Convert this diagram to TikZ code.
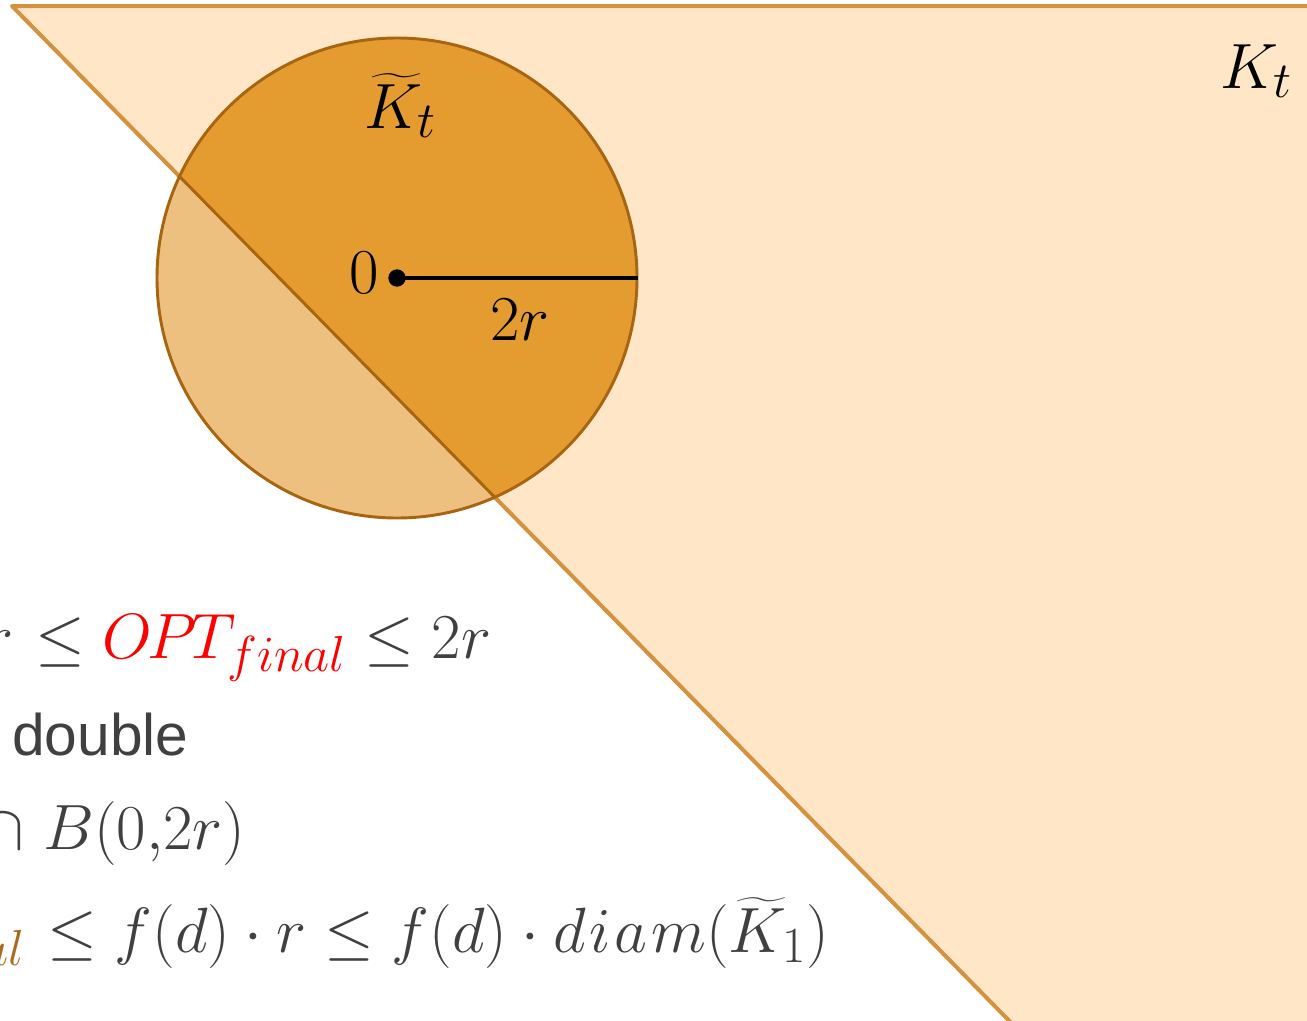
\RequirePackage{fix-cm}
\documentclass[tikz,border=0pt]{standalone}
\usepackage{amsmath}
\usepackage{fontspec}
\newfontfamily\arialfont{Liberation Sans}
\DeclareMathSizes{48}{48}{38}{30}
\definecolor{triFill}{HTML}{FEE6C6}
\definecolor{triLine}{HTML}{D4913F}
\definecolor{circOut}{HTML}{EDC07F}
\definecolor{circIn}{HTML}{E49B30}
\definecolor{circLine}{HTML}{A9640F}
\definecolor{txtGray}{HTML}{404040}
\definecolor{optBrown}{HTML}{A86A1E}
\tikzset{
  mathlbl/.style={inner sep=0pt, font=\fontsize{48}{58}\selectfont},
  mathtxt/.style={inner sep=0pt, text=txtGray, font=\fontsize{48}{58}\selectfont},
  sanstxt/.style={inner sep=0pt, text=txtGray, font=\arialfont\fontsize{44}{52}\selectfont},
}
\begin{document}
\begin{tikzpicture}[x=0.75pt,y=-0.75pt]
\useasboundingbox (0,0) rectangle (1307,1021);
\clip (0,0) rectangle (1307,1021);
% triangle K_t
\coordinate (T1) at (12,6);
\coordinate (T2) at (1330,6);
\coordinate (T3) at (1330,1045);
\coordinate (T4) at (1033,1045);
\fill[triFill] (T1) -- (T2) -- (T3) -- (T4) -- cycle;
\draw[triLine, line width=3pt, line join=round, line cap=round] (T4) -- (T1) -- (T2);
% ball
\coordinate (O) at (397,278);
\coordinate (E) at (638,278);
\fill[circOut] (O) circle[radius=180pt];
\begin{scope}
  \clip (T1) -- (T2) -- (T3) -- (T4) -- cycle;
  \fill[circIn] (O) circle[radius=180pt];
\end{scope}
\begin{scope}
  \clip (O) circle[radius=180pt];
  \draw[circLine, line width=2.2pt] (T1) -- (T4);
\end{scope}
\draw[circLine, line width=2.2pt] (O) circle[radius=180pt];
% radius
\draw[line width=3pt] (O) -- (E);
\fill (O) circle[radius=6.5pt];
% labels
\node[mathlbl, anchor=base east] (zero) at (379,293) {$0$};
\node[mathlbl, anchor=base west] (tworad) at (490,340) {$2r$};
\node[mathlbl, anchor=base west] (Ktil) at (364,128) {$\widetilde{K}_t$};
\node[mathlbl, anchor=base west] (Kt) at (1220,88) {$K_t$};
% text lines
\node[mathtxt, anchor=base west] (l1) at (35,658) {$\le \textcolor{red}{O\mkern-1.5mu P\mkern-1.5mu T_{final}} \le 2r$};
\node[mathtxt, anchor=base east] (l1a) at ([xshift=-16pt]l1.base west) {$r$};
\node[sanstxt, anchor=base west] (l2) at (12,755) {double};
\node[mathtxt, anchor=base west] (l3) at (43,849) {$B(0{,}2r)$};
\node[mathtxt, anchor=base east] (l3a) at ([xshift=-14pt]l3.base west) {$\cap$};
\node[mathtxt, anchor=base west] (l4) at (47,952) {$\le f(d)\cdot r \le f(d)\cdot d\mkern1mu i\mkern1mu a\mkern1mu m(\widetilde{K}_1)$};
\node[mathtxt, anchor=base east, text=optBrown] (l4a) at ([xshift=-16pt]l4.base west) {$OPT_{final}$};
\end{tikzpicture}
\end{document}
